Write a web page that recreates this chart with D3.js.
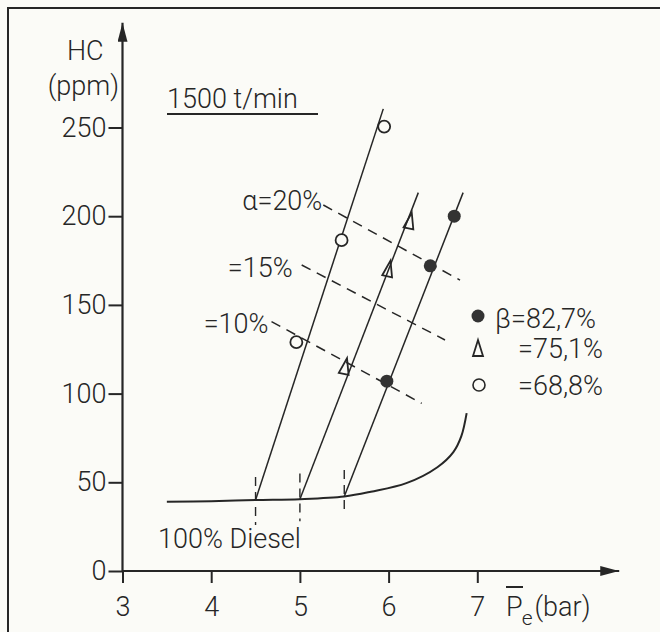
<!DOCTYPE html>
<html>
<head>
<meta charset="utf-8">
<script src="https://cdn.jsdelivr.net/npm/d3@7"></script>
<style>
  body { margin: 0; background: #fbfbf7; }
  text { font-family: Roboto, "DejaVu Sans", sans-serif; font-weight: 300; fill: #262626; }
</style>
</head>
<body>
<div id="chart"></div>
<script>
// tick values
var xTicks = [3, 4, 5, 6, 7];
var yTicks = [0, 50, 100, 150, 200, 250];

// 100% diesel curve (pe, HC)
var dieselCurve = [[3.5, 39], [4, 39.3], [4.5, 40], [5, 40.5], [5.5, 42], [5.8, 44.7],
    [6.2, 49.5], [6.55, 58.5], [6.73, 67], [6.82, 76], [6.88, 89]];

// short vertical dashes where the dual fuel lines start
var startDashes = [[4.5, 26, 53], [5, 28, 55], [5.5, 32, 57]];

// measured points for each beta
var beta827 = [[5.98, 107], [6.47, 172], [6.74, 200]];
var beta751 = [[5.51, 115], [6.0, 170], [6.24, 197]];
var beta688 = [[4.96, 129], [5.47, 186.5], [5.95, 250.5]];

// fitted lines (start on diesel curve, end at top)
var lines688 = [[4.5, 40], [5.94, 260.5]];
var lines751 = [[5, 40.4], [6.335, 213.3]];
var lines827 = [[5.5, 42], [6.84, 213.3]];

// iso alpha lines
var alphaLines = [
    [[4.68, 140.6], [6.373, 94.5]],
    [[5.02, 172.5], [6.636, 130.2]],
    [[5.264, 206.3], [6.805, 164]]
];
var alphaLabels = ["=10%", "=15%", "\u03b1=20%"];

var legendLabels = ["\u03b2=82,7%", "=75,1%", "=68,8%"];

var width = 660, height = 632;
var ink = "#262626", paper = "#fbfbf7";

var svg = d3.select("#chart").append("svg")
    .attr("width", width)
    .attr("height", height);

svg.append("rect")
    .attr("width", width)
    .attr("height", height)
    .attr("fill", paper);

// frame
svg.append("rect")
    .attr("x", 8).attr("y", 8)
    .attr("width", 700).attr("height", 700)
    .attr("fill", "none")
    .attr("stroke", ink)
    .attr("stroke-width", 2);

//scales
var x = d3.scaleLinear().domain([3, 7]).range([122.5, 477.3]);
var y = d3.scaleLinear().domain([0, 250]).range([571, 127.5]);

//arrow marker
svg.append("defs").append("marker")
    .attr("id", "arrow")
    .attr("viewBox", "0 -5 19 10")
    .attr("refX", 19).attr("refY", 0)
    .attr("markerWidth", 19).attr("markerHeight", 10)
    .attr("markerUnits", "userSpaceOnUse")
    .attr("orient", "auto")
    .append("path")
    .attr("d", "M0,-5L19,0L0,5Z")
    .attr("fill", ink);

//x-axis
var gx = svg.append("g")
    .attr("transform", "translate(0," + y(0) + ")")
    .call(d3.axisBottom(x).tickValues(xTicks).tickSize(12).tickPadding(14).tickFormat(d3.format("d")));

//y-axis
var gy = svg.append("g")
    .attr("transform", "translate(" + x(3) + ",0)")
    .call(d3.axisLeft(y).tickValues(yTicks).tickSize(14).tickPadding(2).tickFormat(d3.format("d")));

[gx, gy].forEach(function (g) {
    g.select(".domain").remove();
    g.attr("font-size", null).attr("font-family", null);
    g.selectAll("line").attr("stroke", ink).attr("stroke-width", 2);
    g.selectAll("text").attr("fill", ink).style("font-size", "27px");
});

// axis lines with arrows
svg.append("line")
    .attr("x1", x(3)).attr("y1", y(0))
    .attr("x2", x(8.6)).attr("y2", y(0))
    .attr("stroke", ink).attr("stroke-width", 2.2)
    .attr("marker-end", "url(#arrow)");

svg.append("line")
    .attr("x1", x(3)).attr("y1", y(0))
    .attr("x2", x(3)).attr("y2", y(309))
    .attr("stroke", ink).attr("stroke-width", 2.2)
    .attr("marker-end", "url(#arrow)");

var line = d3.line()
    .x(function (d) { return x(d[0]); })
    .y(function (d) { return y(d[1]); });

var smooth = d3.line()
    .x(function (d) { return x(d[0]); })
    .y(function (d) { return y(d[1]); })
    .curve(d3.curveCatmullRom);

// diesel curve
svg.append("path")
    .attr("d", smooth(dieselCurve))
    .attr("fill", "none")
    .attr("stroke", ink)
    .attr("stroke-width", 2);

// start dashes
svg.selectAll(".start-dash")
    .data(startDashes)
    .enter()
    .append("line")
    .attr("class", "start-dash")
    .attr("x1", function (d) { return x(d[0]); })
    .attr("x2", function (d) { return x(d[0]); })
    .attr("y1", function (d) { return y(d[2]); })
    .attr("y2", function (d) { return y(d[1]); })
    .attr("stroke", ink)
    .attr("stroke-width", 1.4)
    .attr("stroke-dasharray", "9,6");

// iso alpha dashed lines
svg.selectAll(".alpha-line")
    .data(alphaLines)
    .enter()
    .append("path")
    .attr("class", "alpha-line")
    .attr("d", function (d) { return line(d); })
    .attr("fill", "none")
    .attr("stroke", ink)
    .attr("stroke-width", 1.5)
    .attr("stroke-dasharray", "10,7");

// alpha labels
var alphaDx = [-3, -9, -1];
var alphaDy = [11, 12, 5];
svg.selectAll(".alpha-label")
    .data(alphaLines)
    .enter()
    .append("text")
    .attr("class", "alpha-label")
    .attr("x", function (d, i) { return x(d[0][0]) + alphaDx[i]; })
    .attr("y", function (d, i) { return y(d[0][1]) + alphaDy[i]; })
    .attr("text-anchor", "end")
    .style("font-size", "27px")
    .text(function (d, i) { return alphaLabels[i]; });

// beta lines
[lines688, lines751, lines827].forEach(function (d) {
    svg.append("path")
        .attr("d", line(d))
        .attr("fill", "none")
        .attr("stroke", ink)
        .attr("stroke-width", 1.5);
});

// markers
var triangle = "M0,-9L5,7L-5,7Z";

svg.selectAll(".open-dot")
    .data(beta688)
    .enter()
    .append("circle")
    .attr("cx", function (d) { return x(d[0]); })
    .attr("cy", function (d) { return y(d[1]); })
    .attr("r", 6)
    .attr("fill", paper)
    .attr("stroke", ink)
    .attr("stroke-width", 1.8);

svg.selectAll(".tri")
    .data(beta751)
    .enter()
    .append("path")
    .attr("d", triangle)
    .attr("transform", function (d) { return "translate(" + x(d[0]) + "," + y(d[1]) + ") rotate(12)"; })
    .attr("fill", "none")
    .attr("stroke", ink)
    .attr("stroke-width", 1.8);

svg.selectAll(".full-dot")
    .data(beta827)
    .enter()
    .append("circle")
    .attr("cx", function (d) { return x(d[0]); })
    .attr("cy", function (d) { return y(d[1]); })
    .attr("r", 6.5)
    .attr("fill", "#333");

// legend
var legend = svg.append("g").attr("transform", "translate(478,316)");
legend.append("circle").attr("cx", 0).attr("cy", 0).attr("r", 6.5).attr("fill", "#333");
legend.append("path").attr("d", triangle).attr("transform", "translate(0,33)")
    .attr("fill", "none").attr("stroke", ink).attr("stroke-width", 1.8);
legend.append("circle").attr("cx", 1).attr("cy", 69).attr("r", 6)
    .attr("fill", "none").attr("stroke", ink).attr("stroke-width", 1.6);

var legendX = [17, 40, 40];
var legendY = [12, 42, 79];
legend.selectAll(".legend-text")
    .data(legendLabels)
    .enter()
    .append("text")
    .attr("x", function (d, i) { return legendX[i]; })
    .attr("y", function (d, i) { return legendY[i]; })
    .style("font-size", "27px")
    .text(function (d) { return d; });

// axis titles
svg.append("text").attr("x", 67).attr("y", 60).style("font-size", "27px").text("HC");
svg.append("text").attr("x", 119).attr("y", 95).attr("text-anchor", "end").style("font-size", "27px").text("(ppm)");

// Pe (bar) as one text element
var pe = svg.append("text").attr("x", 506).attr("y", 616).style("font-size", "27px");
pe.append("tspan").text("P");
pe.append("tspan").attr("dx", -1).attr("dy", 9).style("font-size", "21px").text("e");
pe.append("tspan").attr("dx", 2).attr("dy", -9).text("(bar)");
svg.append("line").attr("x1", 506).attr("x2", 523).attr("y1", 587).attr("y2", 587)
    .attr("stroke", ink).attr("stroke-width", 2);

// title and curve label
svg.append("text").attr("x", 167).attr("y", 108).style("font-size", "27px").text("1500 t/min");
svg.append("line").attr("x1", 167).attr("x2", 318).attr("y1", 114).attr("y2", 114)
    .attr("stroke", ink).attr("stroke-width", 2);

svg.append("text").attr("x", 158).attr("y", 548).style("font-size", "27px").text("100% Diesel");
</script>
</body>
</html>
